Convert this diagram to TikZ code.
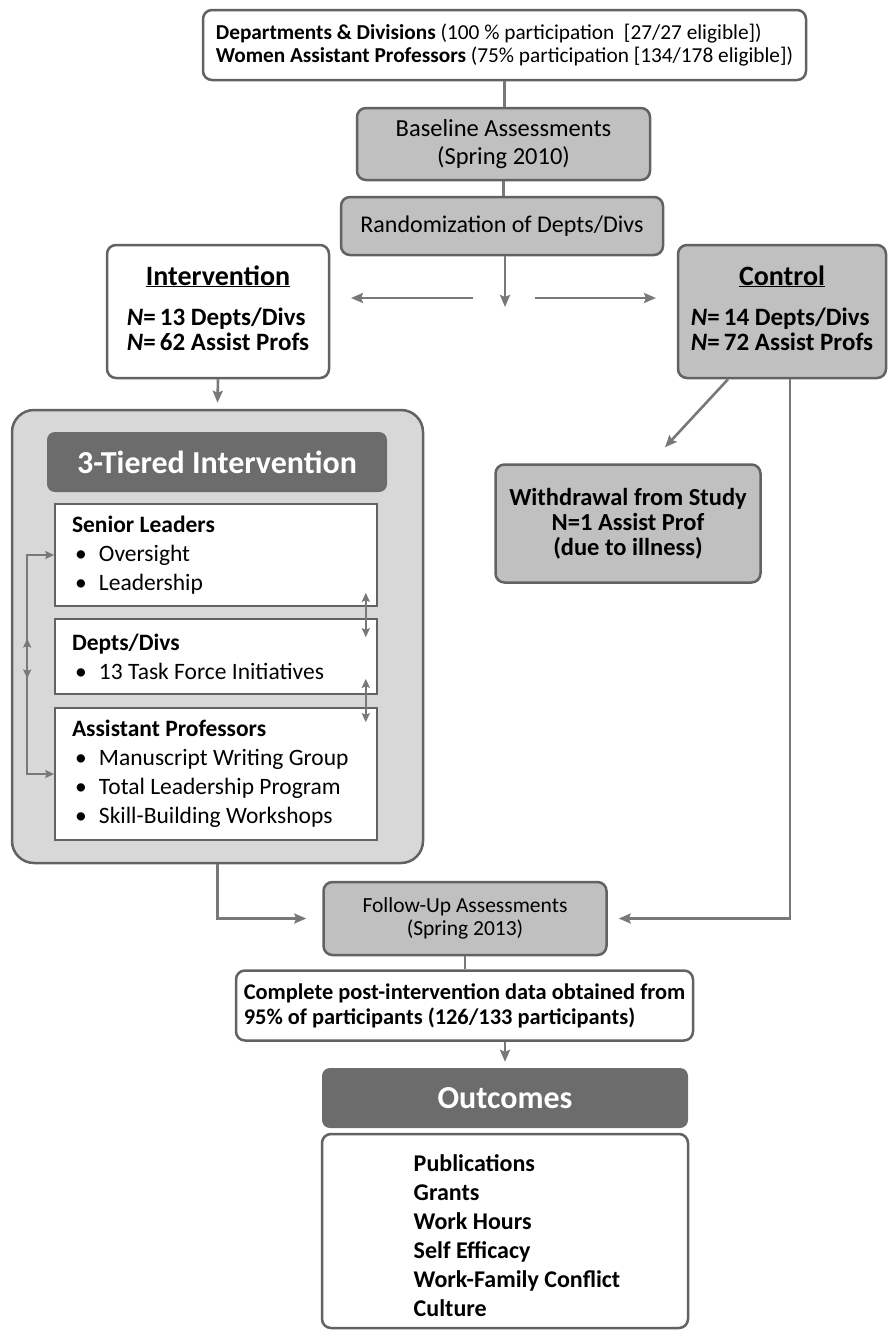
\documentclass[tikz,border=0pt]{standalone}
\usepackage{fontspec}
\setmainfont{Carlito}
\usetikzlibrary{arrows.meta}
\definecolor{boxgray}{RGB}{192,192,192}
\definecolor{tiergray}{RGB}{216,216,216}
\definecolor{headgray}{RGB}{108,108,108}
\definecolor{edgegray}{RGB}{98,98,98}
\definecolor{linegray}{RGB}{120,120,120}
\newcommand\itm[1]{\hspace*{3pt}\makebox[24pt][l]{\textbullet}#1}
\newcommand\Nis{\textit{N}=\,}
\begin{document}
\begin{tikzpicture}[x=1pt,y=-1pt,
	box/.style={draw=edgegray,line width=2.5pt,rounded corners=9pt,inner sep=0pt},
	greybox/.style={box,fill=boxgray},
	whitebox/.style={box,fill=white},
	darkbox/.style={rounded corners=8pt,fill=headgray,text=white,inner sep=0pt,font=\fontsize{32}{34}\selectfont\bfseries},
	tierbox/.style={draw=edgegray,line width=1.6pt,fill=white,inner sep=0pt,inner xsep=17pt,text width=288pt,align=flush left,minimum width=322pt,font=\fontsize{23.5}{29}\selectfont},
	link/.style={draw=linegray,line width=2.6pt},
	thin link/.style={draw=linegray,line width=1.8pt},
	tip/.tip={Stealth[length=12pt,width=10pt,inset=2pt]},
	small tip/.tip={Stealth[length=9pt,width=8pt,inset=1.5pt]}]
	\useasboundingbox (0,0) rectangle (889,1334);
	% top of the study
	\node[whitebox,minimum width=603pt,minimum height=70pt,align=left,font=\fontsize{21.3}{23}\selectfont] (top) at (504.5,45)
	{\textbf{Departments \& Divisions} (100 \% participation\ \ [27/27 eligible])\\
	\textbf{Women Assistant Professors} (75\% participation [134/178 eligible])};
	\node[greybox,minimum width=293pt,minimum height=72pt,align=center,font=\fontsize{24.5}{28}\selectfont] (base) at (503.5,144)
	{Baseline Assessments\\(Spring 2010)};
	\node[greybox,minimum width=322pt,minimum height=58pt,font=\fontsize{24}{24}\selectfont] (rand) at (502,226)
	{Randomization of Depts/Divs};
	\node[whitebox,minimum width=222pt,minimum height=133pt,font=\fontsize{25}{25}\selectfont\bfseries] (interv) at (218,311.5)
	{\begin{tabular}{@{}l@{}}\multicolumn{1}{@{}c@{}}{\fontsize{28}{28}\selectfont\underline{Intervention}}\\[15pt]
	\Nis13 Depts/Divs\\ \Nis62 Assist Profs\end{tabular}};
	\node[greybox,minimum width=208pt,minimum height=133pt,font=\fontsize{25}{25}\selectfont\bfseries] (ctrl) at (782,311.5)
	{\begin{tabular}{@{}l@{}}\multicolumn{1}{@{}c@{}}{\fontsize{28}{28}\selectfont\underline{Control}}\\[15pt]
	\Nis14 Depts/Divs\\ \Nis72 Assist Profs\end{tabular}};
	% the three tiers
	\node[draw=edgegray,line width=2.5pt,fill=tiergray,rounded corners=22pt,minimum width=411pt,minimum height=453pt] (tier) at (217.5,636.5) {};
	\node[darkbox,minimum width=340pt,minimum height=60pt] (tierhead) at (217,462) {3-Tiered Intervention};
	\node[tierbox,minimum height=102pt] (senior) at (216,555)
	{\textbf{Senior Leaders}\\ \itm{Oversight}\\ \itm{Leadership}};
	\node[tierbox,minimum height=75pt] (depts) at (216,656.5)
	{\textbf{Depts/Divs}\\ \itm{13 Task Force Initiatives}};
	\node[tierbox,minimum height=132pt] (assist) at (216,774)
	{\textbf{Assistant Professors}\\ \itm{Manuscript Writing Group}\\ \itm{Total Leadership Program}\\ \itm{Skill-Building Workshops}};
	\node[greybox,minimum width=265pt,minimum height=118pt,align=center,font=\fontsize{24.5}{25}\selectfont\bfseries] (withdraw) at (628,523.5)
	{Withdrawal from Study\\N=1 Assist Prof\\(due to illness)};
	% follow-up and outcomes
	\node[greybox,minimum width=283pt,minimum height=73pt,align=center,font=\fontsize{21.5}{23}\selectfont] (follow) at (465,918.5)
	{Follow-Up Assessments\\(Spring 2013)};
	\node[whitebox,minimum width=457pt,minimum height=70pt,align=left,font=\fontsize{22.4}{25}\selectfont\bfseries] (complete) at (464.5,1005.5)
	{Complete post-intervention data obtained from\\95\% of participants (126/133 participants)};
	\node[darkbox,minimum width=366pt,minimum height=60pt] (outhead) at (505,1098) {Outcomes};
	\node[whitebox,minimum width=366pt,minimum height=194pt,font=\fontsize{24}{29}\selectfont\bfseries] (outlist) at (505,1231)
	{\begin{tabular}{@{\hspace{24pt}}l@{}}\noalign{\vskip14pt}Publications\\Grants\\Work Hours\\Self Efficacy\\Work-Family Conflict\\Culture\end{tabular}};
	% connectors
	\coordinate (split) at (505,307);
	\coordinate (toint) at (351,298);
	\coordinate (toctl) at (656,298);
	\draw[link] (top.south) -- (top.south |- base.north);
	\draw[link] (base.south) -- (base.south |- rand.north);
	\draw[link,-tip] (rand.south -| split) -- (split);
	\draw[link,-tip] (473,298) -- (toint);
	\draw[link,-tip] (535,298) -- (toctl);
	\draw[link,-tip] (interv.south) -- ([yshift=6pt]tier.north);
	\draw[link,-tip] ([xshift=-54pt]ctrl.south) -- ([xshift=37pt,yshift=16pt]withdraw.north);
	\draw[link,-tip] ([xshift=8pt]ctrl.south) |- ([xshift=11pt]follow.east);
	\draw[link,-tip] (tier.south) |- ([xshift=-16pt]follow.west);
	\draw[link] (follow.south) -- (follow.south |- complete.north);
	\draw[link,-tip] (outhead.north |- complete.south) -- ([yshift=6pt]outhead.north);
	\draw[thin link,small tip-small tip] (senior.west) -- ++(-27,0) |- (assist.west);
	\draw[thin link,small tip-small tip] ([xshift=-27pt,yshift=18pt]depts.west) -- ([xshift=-27pt,yshift=-22pt]depts.west);
	\draw[thin link,small tip-small tip] ([xshift=-12pt,yshift=14pt]senior.south east) -- ([xshift=-12pt,yshift=-19pt]depts.north east);
	\draw[thin link,small tip-small tip] ([xshift=-12pt,yshift=16pt]depts.south east) -- ([xshift=-12pt,yshift=-15pt]assist.north east);
\end{tikzpicture}
\end{document}
